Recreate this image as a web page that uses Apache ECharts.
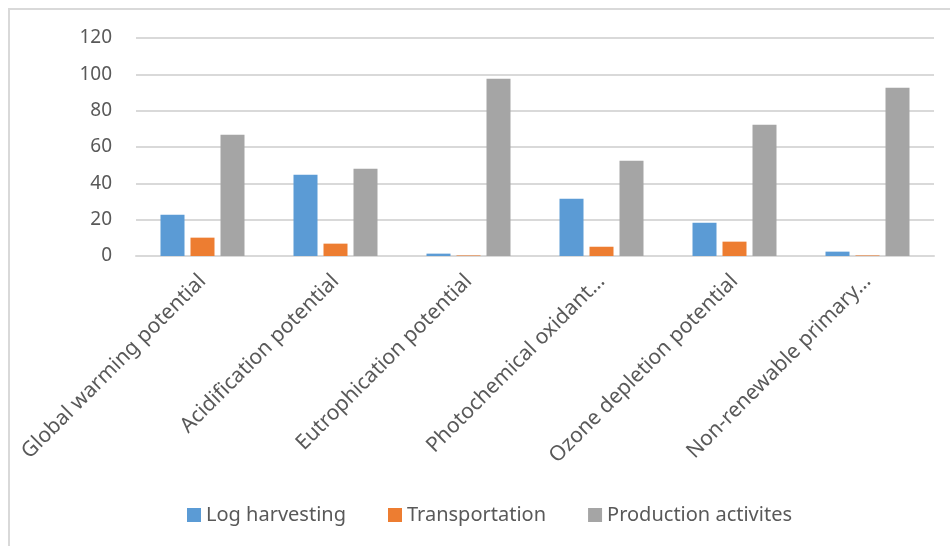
<!DOCTYPE html>
<html>
<head>
<meta charset="utf-8">
<script src="https://cdn.jsdelivr.net/npm/echarts@6/dist/echarts.min.js"></script>
<style>
    html, body { margin: 0; padding: 0; background: #fff; }
    #frame { position: absolute; left: 8px; top: 8px; width: 960px; height: 560px;
             border-top: 2px solid #d9d9d9; border-left: 2px solid #d9d9d9; }
    #chart { position: absolute; left: 0; top: 0; width: 950px; height: 546px; }
</style>
</head>
<body>
<div id="frame"></div>
<div id="chart"></div>
<script>
// 类别
var categories = [
    'Global warming potential',
    'Acidification potential',
    'Eutrophication potential',
    'Photochemical oxidant…',
    'Ozone depletion potential',
    'Non-renewable primary…'
];
// 数据
var logHarvesting = [22.7, 44.7, 1.3, 31.5, 18.3, 2.4];
var transportation = [10.1, 6.8, 0.3, 5.1, 7.9, 0.3];
var productionActivites = [66.8, 48.0, 97.6, 52.5, 72.3, 92.6];
var seriesNames = ['Log harvesting', 'Transportation', 'Production activites'];
var colors = ['#5b9bd5', '#ed7d31', '#a5a5a5'];

var myChart = echarts.init(document.getElementById('chart'));
var font = 'Noto Sans, sans-serif';
var option = {
    color: colors,
    animation: false,
    textStyle: { fontFamily: font },
    grid: {
        left: 136,
        right: 16,
        top: 38,
        bottom: 290
    },
    legend: {
        bottom: 16,
        left: 182,
        itemWidth: 14,
        itemHeight: 14,
        itemGap: 42,
        icon: 'rect',
        textStyle: { color: '#595959', fontSize: 20, fontFamily: font },
        data: seriesNames
    },
    xAxis: {
        type: 'category',
        data: categories,
        axisLine: { lineStyle: { color: '#d9d9d9', width: 2 } },
        axisTick: { show: false },
        axisLabel: {
            rotate: 45,
            interval: 0,
            color: '#595959',
            fontSize: 21,
            margin: 22,
            fontFamily: font
        }
    },
    yAxis: {
        type: 'value',
        min: 0,
        max: 120,
        interval: 20,
        axisLine: { show: false },
        axisTick: { show: false },
        splitLine: { lineStyle: { color: '#d9d9d9', width: 2 } },
        axisLabel: { color: '#595959', fontSize: 19, margin: 24, fontFamily: font }
    },
    series: [
        {
            name: seriesNames[0],
            type: 'bar',
            barWidth: 24,
            barGap: '25%',
            data: logHarvesting
        },
        {
            name: seriesNames[1],
            type: 'bar',
            barWidth: 24,
            barGap: '25%',
            data: transportation
        },
        {
            name: seriesNames[2],
            type: 'bar',
            barWidth: 24,
            barGap: '25%',
            data: productionActivites
        }
    ]
};
myChart.setOption(option);
</script>
</body>
</html>
